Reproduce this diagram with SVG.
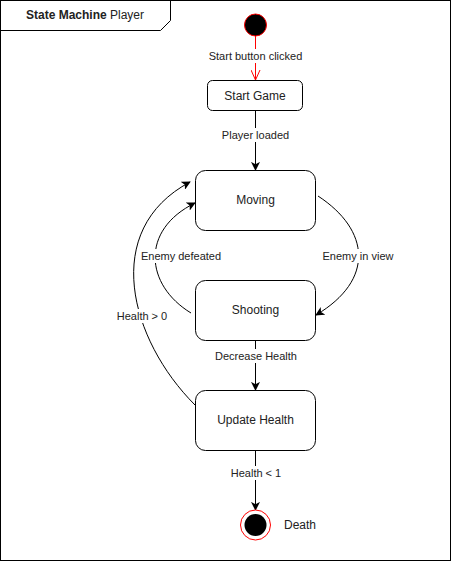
<svg xmlns="http://www.w3.org/2000/svg" width="451" height="561" viewBox="0 0 451 561">
<style>
text{font-family:"Liberation Sans",Arial,sans-serif;font-size:11px;fill:#222;text-anchor:middle;dominant-baseline:central}
.st{fill:#fff;stroke:#000;stroke-width:1}
.e{fill:none;stroke:#000;stroke-width:1}
.lb{fill:#fff;stroke:none}
</style>
<defs>
<marker id="ah" viewBox="0 0 10 10" refX="9" refY="5" markerWidth="9" markerHeight="9" markerUnits="userSpaceOnUse" orient="auto">
<path d="M0,0 L10,5 L0,10 L2.5,5 Z" fill="#000"/>
</marker>
<marker id="oh" viewBox="0 0 10 10" refX="10" refY="5" markerWidth="10" markerHeight="10" markerUnits="userSpaceOnUse" orient="auto">
<path d="M0,0.5 L10,5 L0,9.5" fill="none" stroke="#f00" stroke-width="1"/>
</marker>
</defs>
<g id="frame">
<rect x="0.5" y="0.5" width="450" height="560" fill="#fff" stroke="#000"/>
<path d="M0.5,30.5 H160.5 L170.5,20.5 V0.5" fill="none" stroke="#000"/>
<text x="85" y="15" style="font-size:12px"><tspan font-weight="bold">State Machine</tspan> Player</text>
</g>
<g id="connectors">
<line x1="255.5" y1="36" x2="255.5" y2="80" stroke="#f00" marker-end="url(#oh)"/>
<rect class="lb" x="207" y="49" width="97" height="14"/>
<text x="255.5" y="56">Start button clicked</text>
<line class="e" x1="255.5" y1="110" x2="255.5" y2="170" marker-end="url(#ah)"/>
<rect class="lb" x="220" y="128" width="71" height="14"/>
<text x="255.5" y="135">Player loaded</text>
<path class="e" d="M318,196 C370,230 375,280 316,315" marker-end="url(#ah)"/>
<rect class="lb" x="321" y="249" width="75" height="14"/>
<text x="358" y="256">Enemy in view</text>
<path class="e" d="M191,313 C145,285 140,230 195,203" marker-end="url(#ah)"/>
<rect class="lb" x="140" y="249" width="83" height="14"/>
<text x="181" y="256">Enemy defeated</text>
<path class="e" d="M195,405 C130,340 100,230 190,182" marker-end="url(#ah)"/>
<rect class="lb" x="114" y="309" width="56" height="14"/>
<text x="142" y="316">Health &gt; 0</text>
<line class="e" x1="255.5" y1="340" x2="255.5" y2="390" marker-end="url(#ah)"/>
<rect class="lb" x="214" y="349" width="84" height="14"/>
<text x="256" y="356">Decrease Health</text>
<line class="e" x1="255.5" y1="450" x2="255.5" y2="510" marker-end="url(#ah)"/>
<rect class="lb" x="229" y="466" width="54" height="14"/>
<text x="256" y="473">Health &lt; 1</text>
</g>
<g id="start">
<circle cx="255.5" cy="25" r="11" fill="#000" stroke="#f00" stroke-width="1"/>
</g>
<g id="startgame">
<rect class="st" x="207.5" y="80.5" width="95" height="30" rx="5"/>
<text x="255" y="95.5" style="font-size:12px">Start Game</text>
</g>
<g id="moving">
<rect class="st" x="195.5" y="170.5" width="120" height="60" rx="10"/>
<text x="255.5" y="200" style="font-size:12px">Moving</text>
</g>
<g id="shooting">
<rect class="st" x="195.5" y="280.5" width="120" height="60" rx="10"/>
<text x="255.5" y="310" style="font-size:12px">Shooting</text>
</g>
<g id="update">
<rect class="st" x="195.5" y="390.5" width="120" height="60" rx="10"/>
<text x="255.5" y="420" style="font-size:12px">Update Health</text>
</g>
<g id="death">
<circle cx="255.5" cy="525" r="15" fill="#fff" stroke="#f00" stroke-width="1"/>
<circle cx="255.5" cy="525" r="11" fill="#000"/>
<text x="300" y="525" style="font-size:12px">Death</text>
</g>
</svg>
